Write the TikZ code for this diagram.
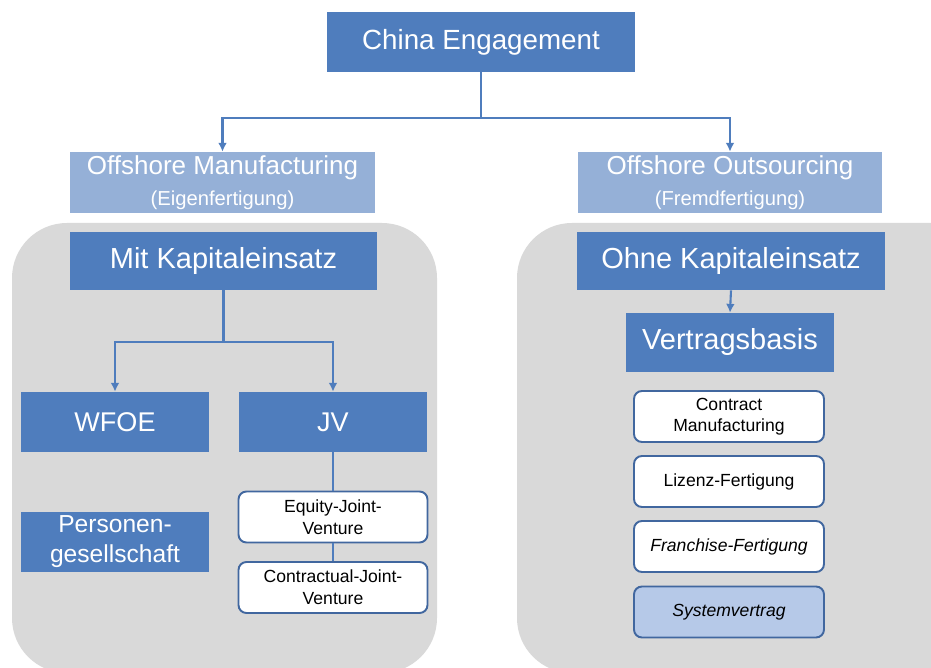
\documentclass[tikz,border=0pt]{standalone}
\usepackage{fontspec}
\setmainfont{Liberation Sans}
\usetikzlibrary{arrows.meta}
\definecolor{darkbox}{HTML}{4F7DBD}
\definecolor{lightbox}{HTML}{95B0D7}
\definecolor{palebox}{HTML}{B6C9E8}
\definecolor{boxframe}{HTML}{41679F}
\definecolor{bggray}{HTML}{D9D9D9}
\tikzset{mainbox/.style = {fill=darkbox, text=white, inner sep=0pt, align=center,
                           font=\fontsize{16.5}{19}\selectfont}}
\tikzset{subbox/.style = {fill=lightbox, text=white, inner sep=0pt, align=center,
                          minimum width=6.1cm, minimum height=1.22cm,
                          font=\fontsize{14.8}{17.6}\selectfont}}
\tikzset{smallbox/.style = {draw=boxframe, line width=1.1pt, fill=white,
                            rounded corners=4.5pt, inner sep=0pt, align=center,
                            minimum height=1.02cm, font=\fontsize{10}{12.3}\selectfont}}
\tikzset{conn/.style = {draw=darkbox, line width=1.2pt}}
\tikzset{arr/.style = {conn, -{Latex[length=5pt,width=5pt]}}}

\begin{document}
\begin{tikzpicture}[x=0.02cm, y=-0.02cm]
      \useasboundingbox (0,0) rectangle (931,668);
      \clip (0,0) rectangle (931,668);
      \fill[bggray, rounded corners=1.1cm] (12,223) rectangle (437,673);
      \fill[bggray, rounded corners=1.1cm] (517,223) rectangle (990,673);
      \node[mainbox, minimum width=6.16cm, minimum height=1.2cm,
            font=\fontsize{15.8}{19}\selectfont] (china) at (481,42) {China Engagement};
      \node[subbox] (offm) at (222.5,182.5)
            {Offshore Manufacturing\\{\fontsize{11.5}{17.6}\selectfont (Eigenfertigung)}};
      \node[subbox] (offo) at (730,182.5)
            {Offshore Outsourcing\\{\fontsize{11.5}{17.6}\selectfont (Fremdfertigung)}};
      \node[mainbox, minimum width=6.16cm, minimum height=1.16cm] (mit) at (223.5,261) {Mit Kapitaleinsatz};
      \node[mainbox, minimum width=6.16cm, minimum height=1.16cm] (ohne) at (731,261) {Ohne Kapitaleinsatz};
      \node[mainbox, minimum width=4.16cm, minimum height=1.18cm] (vertrag) at (730,342.5) {Vertragsbasis};
      \node[mainbox, minimum width=3.78cm, minimum height=1.2cm,
            font=\fontsize{15.4}{19}\selectfont] (wfoe) at (115,422) {WFOE};
      \node[mainbox, minimum width=3.78cm, minimum height=1.2cm,
            font=\fontsize{15.4}{19}\selectfont] (jv) at (333,422) {JV};
      \node[mainbox, minimum width=3.78cm, minimum height=1.2cm,
            font=\fontsize{14}{17}\selectfont] (person) at (115,542) {Personen-\\gesellschaft};
      \node[smallbox, minimum width=3.78cm] (equity) at (333,517) {Equity-Joint-\\Venture};
      \node[smallbox, minimum width=3.78cm] (contractual) at (333,587.5) {Contractual-Joint-\\Venture};
      \node[smallbox, minimum width=3.8cm] (contract) at (729,416.5) {Contract\\Manufacturing};
      \node[smallbox, minimum width=3.8cm] (lizenz) at (729,481.5) {Lizenz-Fertigung};
      \node[smallbox, minimum width=3.8cm, font=\fontsize{10}{12.3}\selectfont\itshape] (franchise) at (729,546.5) {Franchise-Fertigung};
      \node[smallbox, minimum width=3.8cm, fill=palebox,
            font=\fontsize{10}{12.3}\selectfont\itshape] (system) at (729,612) {Systemvertrag};
      \coordinate (topsplit) at (481,118);
      \coordinate (leftsplit) at (223.5,342);
      \draw[conn] (china.south) -- (topsplit);
      \draw[arr] (topsplit) -| (offm.north);
      \draw[arr] (topsplit) -| (offo.north);
      \draw[conn] (mit.south) -- (leftsplit);
      \draw[arr] (leftsplit) -| (wfoe.north);
      \draw[arr] (leftsplit) -| (jv.north);
      \draw[arr] (ohne.south) -- (vertrag.north);
      \draw[conn] (jv.south) -- (equity.north);
      \draw[conn] (equity.south) -- (contractual.north);
    \end{tikzpicture}
\end{document}
